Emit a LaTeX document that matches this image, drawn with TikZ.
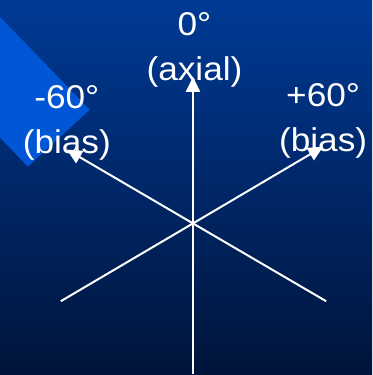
\documentclass[tikz,border=0pt]{standalone}
\usepackage{fontspec}
\newfontfamily\labelfont[FakeStretch=1.07]{Liberation Sans}
\usepackage{xcolor}
\usepackage{tikz}
\usetikzlibrary{arrows.meta}

\definecolor{skytop}{RGB}{0,58,150}
\definecolor{skybot}{RGB}{0,20,58}
\definecolor{band}{RGB}{0,86,212}

\begin{document}
\begin{tikzpicture}[x=1pt,y=1pt,
    lbl/.style={text=white,font=\labelfont\fontsize{33}{45}\selectfont,align=center,inner sep=0pt,anchor=north},
    ray/.style={white,line width=2pt},
    tip/.style={-{Triangle[length=15pt,width=14pt]}}]
  % background and corner band
  \shade[top color=skytop,bottom color=skybot] (0,0) rectangle (373,375);
  \fill[band] (0,358) -- (90,265) -- (28,208) -- (0,237) -- cycle;
  % the three axes
  \coordinate (o) at (193.5,151);
  \coordinate (s) at (193.5,0);
  \coordinate (sw) at (61,73);
  \coordinate (se) at (327,73);
  \coordinate (n) at (193.5,298);
  \coordinate (nw) at (67,225);
  \coordinate (ne) at (324,228);
  \draw[ray] (s) -- (o);
  \draw[ray] (sw) -- (o);
  \draw[ray] (se) -- (o);
  \foreach \e in {n,nw,ne}
    \draw[ray,tip] (o) -- (\e);
  % labels
  \node[lbl] (axial) at (195,363) {0°\\(axial)};
  \node[lbl] (biasl) at (67,289) {-60°\\(bias)};
  \node[lbl] (biasr) at (324,291) {+60°\\(bias)};
\end{tikzpicture}
\end{document}
